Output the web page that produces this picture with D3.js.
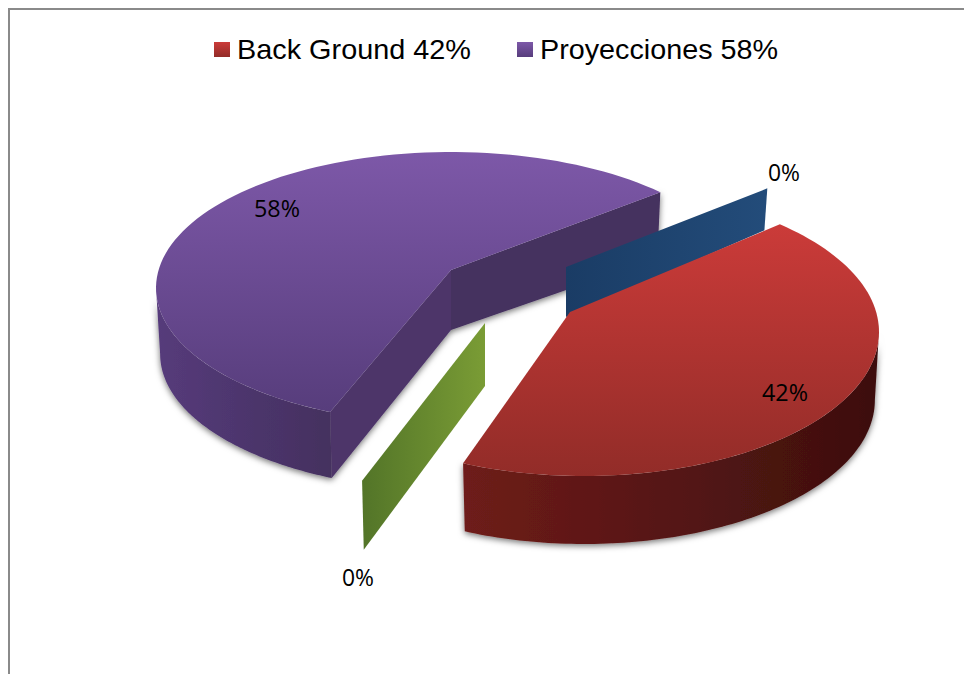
<!DOCTYPE html>
<html><head><meta charset="utf-8">
<script src="https://cdn.jsdelivr.net/npm/d3@7"></script>
<style>html,body{margin:0;padding:0;background:#fff;overflow:hidden}svg{display:block}</style>
</head><body><svg id="c" width="964" height="674"></svg>
<script>
// ---- data ----
const categories = ["Back Ground", "Sin dato A", "Proyecciones", "Sin dato B"];
const values = [42, 0, 58, 0];
const legendCategories = ["Back Ground", "Proyecciones"];
const legendValues = [42, 58];

// ---- layout ----
const rad = d => d * Math.PI / 180;
const START = rad(41.6);
const warp = d3.scaleLinear()
  .domain([START, START + 0.42 * 2 * Math.PI, START + 2 * Math.PI])
  .range([START, rad(204.2), rad(405.2)]);
const frames = {
  "Back Ground": {cx:584, cy:332, rx:295, ry:144, ax:570, ay:312, d:68, da:60, top:["#cb3b39","#922c28"], topY:[224,476], side:["#6e1c1a","#3d0f0e"], sideX:[463,875], lx:785, ly:392, label:"42%"},
  "Sin dato A": {cx:483, cy:353, rx:295, ry:140, ax:485, ay:323, d:69, da:63, side:["#527428","#7a9c35"], sideX:[360,485], lx:358, ly:577, label:"0%"},
  "Proyecciones": {cx:451, cy:288, rx:295, ry:136, ax:451, ay:270, d:66, da:60, top:["#7d58a8","#573d7c"], topY:[152,410], side:["#563b7b","#44305f"], sideX:[156,331], lx:277, ly:208, label:"58%"},
  "Sin dato B": {cx:558, cy:287, rx:295, ry:140, ax:566, ay:267, d:42, da:50, side:["#1a3c65","#234c7a"], sideX:[566,767], lx:784, ly:172, label:"0%"}
};
const legendColors = {"Back Ground":["#cb3b39","#922c28"], "Proyecciones":["#7d58a8","#573d7c"]};

const svg = d3.select("#c");
const defs = svg.append("defs");
function grad(id, colors, x1, y1, x2, y2){
  const g = defs.append("linearGradient").attr("id", id).attr("gradientUnits","userSpaceOnUse")
    .attr("x1",x1).attr("y1",y1).attr("x2",x2).attr("y2",y2);
  g.append("stop").attr("offset",0).attr("stop-color",colors[0]);
  g.append("stop").attr("offset",1).attr("stop-color",colors[1]);
  return `url(#${id})`;
}
const shadow = defs.append("filter").attr("id","sh").attr("x","-10%").attr("y","-10%").attr("width","120%").attr("height","125%");
shadow.append("feDropShadow").attr("dx",0).attr("dy",2).attr("stdDeviation",3).attr("flood-color","#000").attr("flood-opacity",0.55);

// chart frame
svg.append("path").attr("d","M9 674V9H964").attr("fill","none").attr("stroke","#8a8a8a").attr("stroke-width",2);

const pie = d3.pie().sort(null).value(d => d).startAngle(START).endAngle(START + 2*Math.PI);
const arcs = pie(values).map((p,i) => ({name:categories[i], a0:warp(p.startAngle), a1:warp(p.endAngle), f:frames[categories[i]]}));
const line = d3.line();
const pt = (f,a,dz=0,k=1) => [f.cx + f.rx*k*Math.sin(a), f.cy + dz - f.ry*Math.cos(a)];
const rim = (f,a0,a1,dz=0,k=1) => d3.range(0,101).map(i => pt(f, a0 + (a1-a0)*i/100, dz, k));
const BK = 0.986; // the lower rim recedes a little in perspective

function drawSlice(s){
  const f = s.f, g = svg.append("g");
  if (s.a0 === s.a1) { // a 0% slice only shows its cut face
    const o = pt(f,s.a0), o2 = pt(f,s.a0,f.d,BK);
    g.append("path").attr("d", line([[f.ax,f.ay],o,o2,[f.ax,f.ay+f.da]])+"Z")
      .attr("fill", grad("g"+s.name.replace(/\W/g,""), f.side, f.sideX[0],0,f.sideX[1],0));
    return;
  }
  const body = g.append("g").attr("filter","url(#sh)");
  const apex=[f.ax,f.ay], apexB=[f.ax,f.ay+f.da];
  const lo = Math.max(s.a0, rad(90)), hi = Math.min(s.a1, rad(270));
  const wall = rim(f,lo,hi).concat(rim(f,hi,lo,f.d,BK));
  const id = s.name.replace(/\W/g,"");
  if (s.name === "Proyecciones") {
    body.append("path").attr("d", line([apex,pt(f,s.a1),pt(f,s.a1,f.d,BK),apexB])+"Z").attr("fill","#44305e");
    body.append("path").attr("d", line([apex,pt(f,s.a0),pt(f,s.a0,f.d,BK),apexB])+"Z").attr("fill","#4d3569");
  }
  body.append("path").attr("d", line(wall)+"Z").attr("fill", grad("w"+id, f.side, f.sideX[0],0,f.sideX[1],0));
  g.append("path").attr("d", line([apex].concat(rim(f,s.a0,s.a1)))+"Z")
    .attr("fill", grad("t"+id, f.top, 0,f.topY[0],0,f.topY[1]));
}
const order = ["Proyecciones","Sin dato B","Sin dato A","Back Ground"];
order.forEach(n => drawSlice(arcs.find(a => a.name===n)));

// data labels
svg.selectAll("text.dl").data(arcs).join("text").attr("class","dl")
  .attr("x",d=>d.f.lx).attr("y",d=>d.f.ly).attr("text-anchor","middle").attr("dominant-baseline","central")
  .attr("font-family","'Open Sans','Noto Sans',sans-serif").attr("font-size",23).attr("fill","#000")
  .attr("textLength",d=>d.f.label==="0%"?32:46).attr("lengthAdjust","spacingAndGlyphs")
  .text(d=>d.f.label);

// legend
const legendX = {"Back Ground":214, "Proyecciones":517};
const legendTextW = {"Back Ground":234, "Proyecciones":238};
const lg = svg.selectAll("g.lg").data(legendCategories).join("g").attr("class","lg")
  .attr("transform",d=>`translate(${legendX[d]},0)`);
lg.append("rect").attr("y",42).attr("width",16).attr("height",15)
  .attr("fill",d=>grad("l"+d.replace(/\W/g,""),legendColors[d],0,42,0,57));
lg.append("text").attr("x",23).attr("y",59)
  .attr("font-family","'Liberation Sans',Arial,sans-serif").attr("font-size",28).attr("fill","#000")
  .attr("textLength",d=>legendTextW[d]).attr("lengthAdjust","spacingAndGlyphs")
  .text((d,i)=>`${d} ${legendValues[i]}%`);
</script></body></html>
